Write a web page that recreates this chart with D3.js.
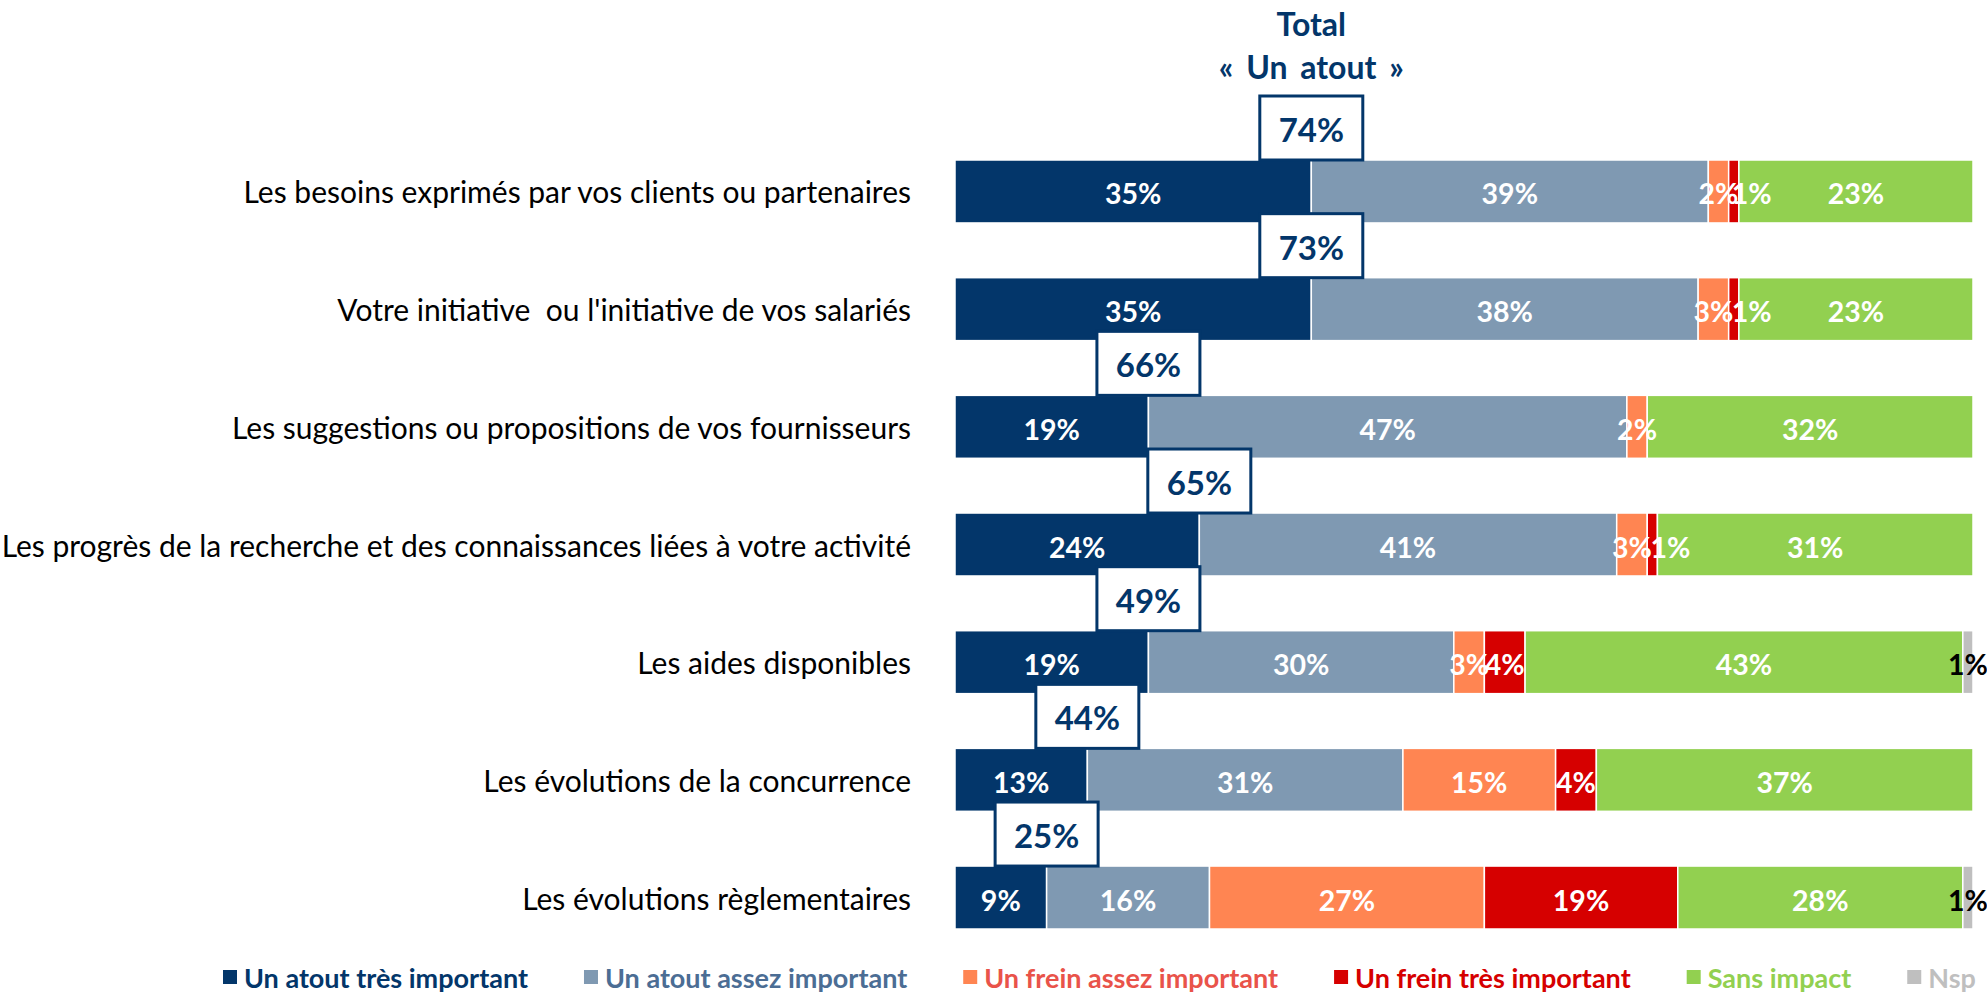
<!DOCTYPE html>
<html>
<head>
<meta charset="utf-8">
<script src="https://cdnjs.cloudflare.com/ajax/libs/d3/7.8.5/d3.min.js"></script>
<style>
  body { margin: 0; background: #fff; }
  svg { display: block; font-family: Lato, "Open Sans", sans-serif; }
</style>
</head>
<body>
<script>
//======================================================================
// data
var categories = [
	"Les besoins exprimés par vos clients ou partenaires",
	"Votre initiative  ou l'initiative de vos salariés",
	"Les suggestions ou propositions de vos fournisseurs",
	"Les progrès de la recherche et des connaissances liées à votre activité",
	"Les aides disponibles",
	"Les évolutions de la concurrence",
	"Les évolutions règlementaires"
];
var seriesNames = ["Un atout très important", "Un atout assez important", "Un frein assez important",
                   "Un frein très important", "Sans impact", "Nsp"];
var atoutTres   = [35, 35, 19, 24, 19, 13,  9];
var atoutAssez  = [39, 38, 47, 41, 30, 31, 16];
var freinAssez  = [ 2,  3,  2,  3,  3, 15, 27];
var freinTres   = [ 1,  1,  0,  1,  4,  4, 19];
var sansImpact  = [23, 23, 32, 31, 43, 37, 28];
var nsp         = [ 0,  0,  0,  0,  1,  0,  1];
var totalAtout  = [74, 73, 66, 65, 49, 44, 25];

var seriesColors = ["#03366a", "#7f99b2", "#ff8552", "#d60000", "#92d050", "#bfbfbf"];
var legendColors = ["#03366a", "#4b6d94", "#e9534a", "#d60000", "#92d050", "#bfbfbf"];
var navy = "#03366a";
//----------------------------------------------------------------------
var W = 1987, H = 995;

var rows = categories.map(function(c, i){
	return { cat: c, s0: atoutTres[i], s1: atoutAssez[i], s2: freinAssez[i],
	         s3: freinTres[i], s4: sansImpact[i], s5: nsp[i], total: totalAtout[i] };
});
var keys = ["s0", "s1", "s2", "s3", "s4", "s5"];
var stacked = d3.stack().keys(keys)(rows);

var x = d3.scaleLinear().domain([0, 100]).range([955, 1973]);
var y = d3.scaleBand().domain(categories).range([160, 929]).paddingInner(0.465).paddingOuter(0).align(0);

var svg = d3.select("body").append("svg").attr("width", W).attr("height", H);

// category labels
svg.append("g").selectAll("text")
	.data(categories)
	.enter().append("text")
		.attr("x", 911)
		.attr("y", function(d){ return y(d) + y.bandwidth()/2; })
		.attr("text-anchor", "end")
		.attr("dominant-baseline", "central")
		.style("white-space", "pre")
		.attr("font-size", 30)
		.attr("fill", "#000")
		.text(function(d){ return d; });

// bars
var gSeries = svg.append("g").selectAll("g")
	.data(stacked)
	.enter().append("g")
		.attr("fill", function(d, i){ return seriesColors[i]; });

gSeries.selectAll("rect")
	.data(function(d){ return d; })
	.enter().append("rect")
		.attr("x", function(d){ return x(d[0]); })
		.attr("y", function(d){ return y(d.data.cat); })
		.attr("width", function(d){ return Math.max(0, x(d[1]) - x(d[0])); })
		.attr("height", y.bandwidth())
		.attr("stroke", "#fff")
		.attr("stroke-width", 1.5);

// segment labels (drawn after every bar so nothing covers them)
var gLabels = svg.append("g");
stacked.forEach(function(s, si){
	gLabels.append("g").selectAll("text")
		.data(s.filter(function(d){ return d[1] - d[0] > 0; }))
		.enter().append("text")
			.attr("x", function(d){
				var cx = (x(d[0]) + x(d[1])) / 2;
				// tiny red segments: label pushed to the right, as in the original
				if (si == 3 && (d[1] - d[0]) <= 1) cx += 18;
				return cx;
			})
			.attr("y", function(d){ return y(d.data.cat) + y.bandwidth()/2 + 2; })
			.attr("text-anchor", "middle")
			.attr("dominant-baseline", "central")
			.attr("font-size", 28.5)
			.attr("font-weight", "bold")
			.attr("fill", si == 5 ? "#000" : "#fff")
			.text(function(d){ return (d[1] - d[0]) + "%"; });
});

// total "un atout" boxes
var boxW = 103, boxH = 64;
var gBox = svg.append("g").selectAll("g")
	.data(rows)
	.enter().append("g")
		.attr("transform", function(d){
			return "translate(" + (x(d.s0) - boxW/2) + "," + (y(d.cat) - boxH) + ")";
		});
gBox.append("rect")
	.attr("width", boxW).attr("height", boxH)
	.attr("fill", "#fff").attr("stroke", navy).attr("stroke-width", 3);
gBox.append("text")
	.attr("x", boxW/2).attr("y", boxH/2 + 1)
	.attr("text-anchor", "middle").attr("dominant-baseline", "central")
	.attr("font-size", 33).attr("font-weight", "bold").attr("fill", navy)
	.text(function(d){ return d.total + "%"; });

// title above first box
var tx = x(rows[0].s0), ty = y(categories[0]) - boxH;
svg.append("text").attr("x", tx).attr("y", ty - 73)
	.attr("text-anchor", "middle").attr("dominant-baseline", "central")
	.attr("font-size", 32).attr("font-weight", "bold").attr("fill", navy)
	.text("Total");
svg.append("text").attr("x", tx).attr("y", ty - 30)
	.attr("text-anchor", "middle").attr("dominant-baseline", "central")
	.attr("font-size", 32).attr("font-weight", "bold").attr("fill", navy)
	.attr("word-spacing", 5)
	.text("« Un atout »");

// legend
var lx = 223, ly = 976;
seriesNames.forEach(function(name, i){
	var g = svg.append("g").attr("transform", "translate(" + lx + "," + ly + ")");
	g.append("rect").attr("x", 0).attr("y", -6).attr("width", 14).attr("height", 14)
		.attr("fill", seriesColors[i]);
	var t = g.append("text").attr("x", 21).attr("y", 1)
		.attr("dominant-baseline", "central")
		.attr("font-size", 27).attr("font-weight", "bold")
		.attr("fill", legendColors[i])
		.text(name);
	lx += 21 + t.node().getComputedTextLength() + 56;
});
//======================================================================
</script>
</body>
</html>
